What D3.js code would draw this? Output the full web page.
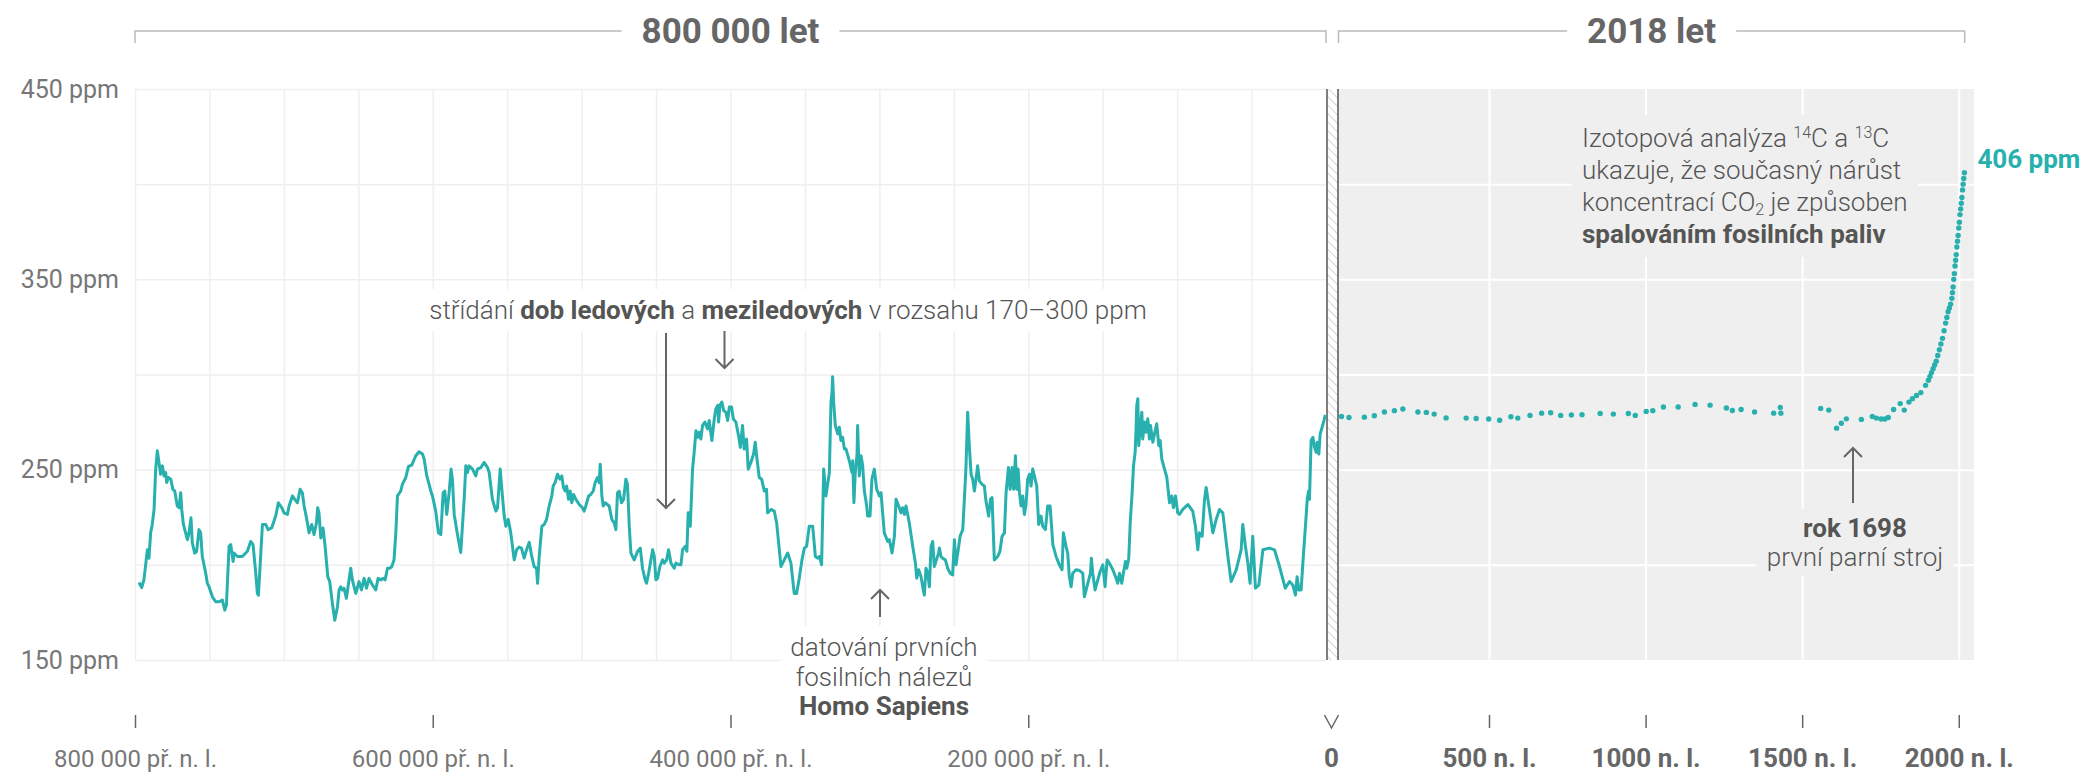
<!DOCTYPE html>
<html lang="cs">

<head>
    <meta charset="UTF-8" />
    <title>CO2 - 800 000 let</title>
    <script src="https://d3js.org/d3.v7.min.js"></script>
    <style>
        body {
            margin: 0;
            background: #fff;
        }

        svg text {
            font-family: Roboto, "Noto Sans", sans-serif;
        }
    </style>
</head>

<body>
    <svg id="chart"></svg>

    <script>
        // ice core record: [thousand years (negative = before present), ppm]
        const iceCore = [
            [-797.3, 190.7], [-795.5, 188], [-794, 192.1], [-791.7, 207.9], [-790.6, 203.5], [-789.5, 216.8], [-788.4, 221.2], [-787.2, 229.1], [-786.1, 250.3], [-785, 260],
            [-783.9, 253.8], [-782.8, 247.6], [-781.6, 252], [-780.5, 246.7], [-779.4, 248.5], [-778.7, 243.2], [-777.6, 245.9], [-776, 245], [-774.5, 239.5], [-773.3, 238.8],
            [-771.6, 230.9], [-770.4, 230], [-769.3, 237.9], [-768.6, 229.1], [-767.5, 221.2], [-766, 216.8], [-764.8, 213.2], [-763.7, 216.8], [-762.4, 224.7], [-761.5, 211.5],
            [-759.9, 206.2], [-758.6, 207.1], [-757, 218.5], [-755.9, 216.8], [-754.8, 204.4], [-752.5, 195.6], [-751.4, 190.3], [-750.3, 188.5], [-748, 183.2], [-745.8, 180.6],
            [-743.6, 180.6], [-741.3, 181.5], [-739.7, 176.2], [-738.6, 178.8], [-736.8, 209.7], [-735.7, 210.6], [-734.1, 201.8], [-733.5, 206.2], [-731.2, 204.4], [-727.9, 204.4],
            [-724.5, 207.1], [-722.3, 212.3], [-720.7, 210.6], [-718.9, 195.6], [-717.8, 185], [-717.1, 184.1], [-716, 199.1], [-714.4, 221.2], [-712.2, 221.2], [-710.6, 218.5],
            [-708.2, 219.4], [-705.5, 225.6], [-703.7, 232.6], [-701.4, 230], [-699.9, 227.3], [-697.6, 226.5], [-696.5, 230.9], [-694.3, 236.2], [-692.7, 234.4], [-690.9, 232.6],
            [-689.1, 239.7], [-687.6, 237.9], [-686.4, 230.9], [-684.6, 223.8], [-683.1, 216.8], [-681.3, 221.2], [-679.7, 215.9], [-678.1, 222], [-677.3, 230], [-676.4, 227.3],
            [-675.2, 214.1], [-673.7, 219.4], [-672.3, 209.7], [-670.5, 193.8], [-669.2, 191.2], [-667.4, 179.7], [-665.8, 170.9], [-664, 178], [-662.9, 186.8], [-661.8, 188.5],
            [-660.7, 186.8], [-659.6, 187.7], [-658, 182.4], [-655.1, 198.2], [-654, 192.1], [-651.7, 185], [-649.5, 191.2], [-647.9, 186.8], [-646.1, 192.9], [-644.5, 187.7],
            [-642.8, 192.9], [-640.5, 189.4], [-638.3, 186.8], [-636.7, 192.9], [-634.9, 192.1], [-633.3, 192.9], [-632, 192.1], [-630.4, 198.2], [-628.9, 198.2], [-627.5, 199.1],
            [-626, 202.6], [-624.8, 216.8], [-623.7, 236.2], [-621.5, 238.8], [-620.4, 242.3], [-618.1, 245.9], [-616.3, 251.7], [-614.1, 252.4], [-611.4, 257.3], [-609.2, 259.4],
            [-606.9, 258.2], [-605.8, 255.6], [-604, 246.7], [-601.3, 238.8], [-600.2, 236.2], [-598, 228.2], [-596.2, 216.8], [-594.6, 215.9], [-593, 237.9], [-591.9, 238.8],
            [-590.6, 226.5], [-589, 237.9], [-587.7, 250.3], [-586.8, 245], [-585.6, 226.5], [-583.4, 215.9], [-581.2, 206.5], [-578.9, 234.4], [-577.8, 252], [-576.7, 248.5],
            [-575.6, 252], [-573.3, 250.3], [-571.1, 246.7], [-570, 250.3], [-567.7, 251.1], [-565.5, 253.8], [-563.2, 251.1], [-562.1, 248.5], [-559.9, 234.4], [-557.6, 228.2],
            [-556.5, 230], [-554.7, 250.3], [-553.6, 239.7], [-552, 225.6], [-550.9, 220.3], [-549.3, 223.9], [-547.6, 216.8], [-545.3, 202.6], [-543.7, 207.9], [-542, 209.3],
            [-540.4, 208.8], [-538.6, 203.5], [-537, 207.9], [-535.2, 211.8], [-533.7, 205.3], [-531.9, 199.1], [-530.3, 198.2], [-529.6, 190.3], [-528.5, 204.4], [-526.7, 220.3],
            [-525.1, 221.2], [-523.6, 223.8], [-521.8, 230.9], [-520, 236.2], [-519.1, 241.4], [-517.8, 243.2], [-516.2, 247.6], [-514.6, 245], [-513.3, 246.7], [-512.2, 240.6],
            [-511, 238.8], [-510.1, 241.4], [-508.8, 234.4], [-507.7, 238.8], [-506.6, 232.6], [-505.4, 237], [-503.9, 234.4], [-501.6, 231.7], [-499.4, 230], [-498.3, 228.2],
            [-497.2, 230.9], [-495.3, 236.2], [-493.8, 237], [-492.2, 238.8], [-490.9, 243.2], [-489.3, 245.9], [-488.2, 243.2], [-487.5, 252.9], [-486.4, 236.2], [-485.5, 230.9],
            [-484.2, 232.6], [-481.5, 230.9], [-479.7, 223.8], [-478.1, 222], [-477, 218.5], [-475.9, 237.9], [-474.8, 238.8], [-473.2, 232.6], [-471.8, 234.4], [-470.3, 245],
            [-469.2, 242.3], [-468, 220.3], [-466.9, 206.2], [-464.7, 202.6], [-462.4, 207.1], [-460.6, 208.8], [-459.1, 198.2], [-457.3, 192.1], [-456.4, 190.3], [-455, 195.6],
            [-452.3, 207.9], [-451.2, 204.4], [-450.1, 192.1], [-449, 193], [-447.4, 199.1], [-445.6, 202.6], [-444.5, 200.9], [-442.9, 202.6], [-441.6, 207.9], [-440, 200.9],
            [-437.8, 198.2], [-436.7, 200.9], [-434.4, 200], [-433.3, 200], [-432.2, 207.9], [-430.4, 209.7], [-429.3, 207.1], [-428.4, 227.3], [-427, 220.3], [-425.5, 250.3],
            [-424.4, 259.1], [-423.2, 270.5], [-422.1, 267], [-421, 269.7], [-419.9, 266.1], [-418.8, 273.2], [-417.2, 275], [-415.4, 271.4], [-414.3, 275.8], [-412.5, 265.3],
            [-410.9, 276.7], [-409.8, 282], [-408.5, 283.8], [-408, 275], [-407.1, 283.8], [-405.8, 285.5], [-404.6, 281.1], [-403.1, 280.2], [-401.9, 275.8], [-400.8, 282.9],
            [-399.3, 282.9], [-398.1, 276.7], [-396.4, 275], [-394.6, 267.9], [-393.4, 261.7], [-391.9, 273.2], [-390.8, 260.8], [-389.2, 266.1], [-388.1, 250.3], [-386.3, 253.8],
            [-384.5, 258.2], [-383.4, 264.4], [-382.2, 255.6], [-380.7, 245.9], [-379.1, 245], [-377.3, 238.8], [-375.8, 239.7], [-375.1, 227.3], [-372.8, 229.1], [-370.6, 228.2],
            [-369, 222], [-366.1, 199.1], [-363.9, 202.6], [-361.6, 206.2], [-359.4, 200.9], [-357.2, 185], [-355.6, 185], [-353.8, 193], [-352, 202.6], [-350.4, 208.8],
            [-348.9, 209.7], [-347.1, 220.3], [-344.8, 220.3], [-343, 204.4], [-341.5, 203.5], [-340.3, 204.4], [-338.8, 200], [-337.4, 250.3], [-335.9, 236.2], [-333.6, 248.5],
            [-332.5, 285.5], [-331.8, 290.8], [-331.4, 298.8], [-330.7, 285.5], [-329.6, 273.2], [-328, 268.8], [-326.9, 272.3], [-325.8, 265.3], [-324.7, 267], [-323.5, 260.8],
            [-322.4, 260.8], [-320.2, 254.7], [-318.4, 248.5], [-317.9, 254.7], [-317.1, 232.6], [-316.2, 248.5], [-315, 258.2], [-314.6, 273.2], [-313.5, 246.7], [-312.3, 257.3],
            [-311.2, 252], [-310.1, 238.8], [-308.5, 230.9], [-307.9, 225.6], [-306.3, 225.6], [-305, 245], [-303.4, 250.3], [-301.8, 239.7], [-300, 236.2], [-298.9, 237.9],
            [-297.8, 227.3], [-296.7, 216.8], [-294.4, 212.3], [-293.3, 213.2], [-291.5, 206.2], [-289.9, 215], [-288.8, 234.4], [-287, 230.9], [-285.5, 227.3], [-284.4, 230],
            [-283.2, 226.5], [-282.1, 230.9], [-279.9, 222], [-277.6, 209.7], [-275.8, 200.9], [-274.9, 193], [-273.6, 197.4], [-272, 193.8], [-270.9, 188.5], [-269.8, 184.1],
            [-268.7, 198.2], [-267.5, 195.6], [-266.4, 188.5], [-265.3, 209.7], [-264.2, 212.3], [-263.1, 199.1], [-260.2, 206.2], [-259.7, 208.8], [-258.6, 204.4], [-257.5, 203.5],
            [-255.7, 202.6], [-254.1, 198.2], [-252.5, 195.6], [-250.8, 194.7], [-249.6, 213.2], [-248.5, 200], [-246.7, 209.7], [-245.8, 215], [-244, 218.5], [-242.9, 234.4],
            [-241.8, 252], [-240.7, 280.2], [-239.6, 262.6], [-238.4, 247.6], [-237.3, 245], [-236.2, 238.8], [-235.1, 245], [-234, 252], [-232.8, 244.1], [-231, 242.3],
            [-229.5, 241.4], [-228.4, 233.5], [-226.6, 225.6], [-225.4, 234.4], [-224.3, 235.3], [-222.8, 202.6], [-220.5, 204.4], [-219, 207.1], [-217.6, 215], [-216, 216.8],
            [-214.9, 237.9], [-213.3, 251.1], [-212.2, 239.7], [-210.9, 251.1], [-209.8, 239.7], [-208.6, 257.3], [-207.7, 239.7], [-206.8, 250.3], [-205.9, 237.9], [-204.8, 230.9],
            [-203.7, 236.2], [-202.6, 226.5], [-201.5, 231.7], [-200.4, 245], [-199.2, 247.6], [-198.1, 241.4], [-197, 250.3], [-195.9, 246.7], [-194.3, 241.4], [-193, 221.2],
            [-191.4, 225.6], [-190.3, 220.3], [-188.5, 218.5], [-186.9, 230.9], [-185.3, 230.9], [-183.5, 210.6], [-181.3, 204.4], [-179.1, 200], [-177.3, 197.4], [-176.4, 216.8],
            [-174.6, 209.7], [-173.5, 206.2], [-172.4, 193.8], [-171.2, 188.5], [-170.1, 195.6], [-167.9, 197.4], [-165.6, 197], [-163.4, 195.6], [-162.3, 183.2], [-160, 190.3],
            [-158.2, 195.6], [-157.6, 203.5], [-156.7, 195.6], [-155.1, 186.8], [-153.3, 192.1], [-151.7, 196.5], [-149.9, 200], [-148.4, 188.5], [-147, 202.6], [-145.5, 200.9],
            [-143.2, 197.4], [-141, 193], [-139.9, 190.3], [-138.7, 195.6], [-137.2, 190.3], [-136.1, 195.6], [-134.7, 201.8], [-133.8, 198.2], [-132.5, 203.5], [-131.4, 223.8],
            [-130.2, 237.9], [-129.3, 252], [-128.2, 259.1], [-127.6, 271.4], [-127.1, 283.8], [-126.4, 287.3], [-125.8, 262.6], [-124.6, 273.2], [-123.7, 280.2], [-123.1, 266.1],
            [-121.9, 275], [-120.8, 269.7], [-119.7, 276.7], [-118.6, 266.1], [-117.9, 273.2], [-116.3, 264.4], [-115.2, 268.8], [-113.7, 274.1], [-112.3, 262.6], [-111.4, 265.3],
            [-110.3, 255.6], [-108.5, 250.3], [-106.9, 245.9], [-105.1, 232.6], [-103.6, 236.2], [-102.5, 230], [-101.1, 236.2], [-99.6, 227.3], [-98.4, 226.5], [-96.2, 229.1],
            [-92.8, 231.7], [-89.5, 228.2], [-87.7, 220.3], [-86.1, 207.9], [-85, 216.8], [-83.2, 215], [-81.6, 234.4], [-80.5, 240.6], [-78.3, 229.1], [-76, 216.8],
            [-73.8, 223.8], [-71.5, 229.1], [-69.3, 227.3], [-65.9, 204.4], [-63.7, 191.2], [-60.3, 197.4], [-57, 207.9], [-55.9, 221.2], [-54.1, 209.7], [-52.5, 200.9],
            [-51, 190.3], [-49.2, 215], [-47.4, 187.7], [-45.1, 189.4], [-42.4, 207.9], [-38, 208.8], [-34.6, 207.9], [-31.2, 199.1], [-27.4, 187.7], [-24.5, 191.2],
            [-22.3, 189.4], [-20.5, 184.1], [-19.4, 193.8], [-18.2, 186.8], [-16.7, 186.8], [-15.1, 206.2], [-13.8, 220.3], [-12.6, 234.4], [-11.7, 238.8], [-11.1, 234.4],
            [-10, 265.3], [-8.8, 267], [-7.7, 261.7], [-6.6, 259.1], [-5.9, 264.4], [-4.8, 258.2], [-3.9, 268.8], [-2.6, 272.3], [-1.4, 275.8], [-0.5, 278.8]
        ];

        // last two millennia: [year n. l., ppm]
        const recentRecord = [
            [29, 277.9], [53, 277.4], [102, 277.6], [134, 278.3], [166, 280.3], [198, 281], [225, 281.9], [273, 280.3], [300, 280.1], [325, 279.2],
            [363, 277.2], [427, 277.1], [459, 276.9], [499, 276.6], [534, 276], [570, 277.8], [592, 277.1], [631, 278.5], [668, 279.7], [697, 279.9],
            [729, 278.5], [763, 278.7], [797, 278.9], [855, 279.5], [897, 279.2], [945, 279.5], [967, 278.5], [1002, 280.6], [1023, 281], [1057, 282.9],
            [1104, 282.9], [1158, 284.3], [1206, 283.9], [1258, 282.4], [1277, 281.1], [1305, 281.6], [1348, 280.3], [1409, 279.7], [1430, 282.7], [1432, 279.7],
            [1559, 282.2], [1585, 281.3], [1610, 271.8], [1625, 274.4], [1641, 276.7], [1689, 276.4], [1724, 277.9], [1737, 277.1], [1752, 276.6], [1764, 276.6],
            [1775, 277.4], [1792, 281.6], [1813, 284.7], [1826, 281.3], [1841, 285.5], [1852, 287.3], [1865, 289], [1879, 290.5], [1894, 294.3], [1903, 297],
            [1908, 299], [1913, 301], [1918, 303], [1923, 305], [1928, 307], [1933, 310], [1938, 313], [1943, 316], [1948, 319], [1953, 323],
            [1958, 327], [1962, 330], [1966, 333], [1970, 335], [1974, 337], [1978, 340], [1980, 343], [1982, 346], [1984, 350], [1986, 353],
            [1988, 357], [1990, 360], [1992, 363], [1994, 367], [1996, 370], [1998, 373], [2000, 377], [2002, 380], [2004, 384], [2006, 387],
            [2008, 390], [2010, 393], [2012, 397], [2014, 400], [2016, 403], [2018, 406]
        ];

        const ppmTicks = [150, 250, 350, 450];
        const ppmGrid = [150, 200, 250, 300, 350, 400, 450];
        const pastTicks = [-800, -600, -400, -200];
        const pastTickLabels = ["800 000 př. n. l.", "600 000 př. n. l.", "400 000 př. n. l.", "200 000 př. n. l."];
        const recentTicks = [500, 1000, 1500, 2000];
        const recentTickLabels = ["500 n. l.", "1000 n. l.", "1500 n. l.", "2000 n. l."];
        const spanTitles = ["800 000 let", "2018 let"];

        const width = 2087;
        const height = 773;
        const teal = "#27b0ad";
        const textDark = "#555";

        const plotTop = 89;
        const plotBottom = 660;
        const pastLeft = 135;
        const pastRight = 1326;
        const breakLeft = 1327;
        const breakRight = 1338;
        const recentRight = 1974;
        const labelBase = 767;

        const svg = d3.select("#chart")
            .attr("width", width)
            .attr("height", height);

        const y = d3.scaleLinear().domain([150, 450]).range([plotBottom, plotTop]);
        const xPast = d3.scaleLinear().domain([-800, 0]).range([pastLeft, pastRight]);
        const xRecent = d3.scaleLinear().domain([0, 2018]).range([1332.4, 1964.4]);

        // hatch pattern for the break
        const defs = svg.append("defs");
        const pattern = defs.append("pattern")
            .attr("id", "hatch")
            .attr("patternUnits", "userSpaceOnUse")
            .attr("width", 6)
            .attr("height", 6)
            .attr("patternTransform", "rotate(-45)");
        pattern.append("rect").attr("width", 6).attr("height", 6).attr("fill", "#fff");
        pattern.append("line")
            .attr("x1", 0).attr("y1", 0).attr("x2", 0).attr("y2", 6)
            .attr("stroke", "#d4d4d4").attr("stroke-width", 2);

        // left panel grid
        svg.append("g")
            .attr("transform", `translate(${pastLeft},0)`)
            .call(d3.axisLeft(y).tickValues(ppmGrid).tickSize(-(pastRight - pastLeft)).tickFormat(""))
            .call(g => g.select(".domain").remove())
            .selectAll("line").attr("stroke", "#efefef").attr("stroke-width", 1.5);

        svg.append("g")
            .attr("transform", `translate(0,${plotBottom})`)
            .call(d3.axisBottom(xPast).tickValues(d3.range(-800, 0, 50)).tickSize(-(plotBottom - plotTop)).tickFormat(""))
            .call(g => g.select(".domain").remove())
            .selectAll("line").attr("stroke", "#efefef").attr("stroke-width", 1.5);

        // right panel background and white grid
        svg.append("rect")
            .attr("x", breakRight)
            .attr("y", plotTop)
            .attr("width", recentRight - breakRight)
            .attr("height", plotBottom - plotTop)
            .attr("fill", "#efefef");

        svg.append("g")
            .attr("transform", `translate(${breakRight},0)`)
            .call(d3.axisLeft(y).tickValues(ppmGrid.slice(1, -1)).tickSize(-(recentRight - breakRight)).tickFormat(""))
            .call(g => g.select(".domain").remove())
            .selectAll("line").attr("stroke", "#fff").attr("stroke-width", 2);

        svg.append("g")
            .attr("transform", `translate(0,${plotBottom})`)
            .call(d3.axisBottom(xRecent).tickValues(recentTicks).tickSize(-(plotBottom - plotTop)).tickFormat(""))
            .call(g => g.select(".domain").remove())
            .selectAll("line").attr("stroke", "#fff").attr("stroke-width", 2);

        // break between the two time scales
        svg.append("rect")
            .attr("x", breakLeft)
            .attr("y", plotTop)
            .attr("width", breakRight - breakLeft)
            .attr("height", plotBottom - plotTop)
            .attr("fill", "url(#hatch)");

        [breakLeft, breakRight].forEach(xb => {
            svg.append("line")
                .attr("x1", xb).attr("x2", xb)
                .attr("y1", plotTop).attr("y2", plotBottom)
                .attr("stroke", "#555").attr("stroke-width", 1.5);
        });

        // y axis labels
        svg.append("g")
            .attr("transform", `translate(${pastLeft},0)`)
            .call(d3.axisLeft(y).tickValues(ppmTicks).tickSize(0).tickPadding(16).tickFormat(d => d + " ppm"))
            .call(g => g.select(".domain").remove())
            .selectAll("text")
            .attr("fill", "#777")
            .style("font-size", "25px")
            .style("font-family", "Roboto, sans-serif");

        function arrow(x, y1, y2) {
            const dir = y2 > y1 ? 1 : -1;
            svg.append("path")
                .attr("d", `M${x},${y1}V${y2}M${x - 9},${y2 - 9 * dir}L${x},${y2}L${x + 9},${y2 - 9 * dir}`)
                .attr("fill", "none")
                .attr("stroke", "#666")
                .attr("stroke-width", 2);
        }

        // annotation helper: text lines with a backdrop rect
        function note(lines, x, y0, lineHeight, anchor, bg, pad) {
            const g = svg.append("g");
            const text = g.append("text")
                .attr("text-anchor", anchor)
                .style("font-size", "26px")
                .attr("fill", textDark);
            lines.forEach((parts, i) => {
                const line = text.append("tspan").attr("x", x).attr("y", y0 + i * lineHeight);
                parts.forEach(p => {
                    const t = line.append("tspan").text(p.t).style("font-weight", p.b ? 700 : 300);
                    if (p.sup) t.style("font-size", "16px").attr("baseline-shift", "9");
                    if (p.sub) t.style("font-size", "16px").attr("baseline-shift", "-4");
                });
            });
            const b = text.node().getBBox();
            g.insert("rect", "text")
                .attr("x", b.x - pad[0]).attr("y", b.y - pad[1])
                .attr("width", b.width + 2 * pad[0]).attr("height", b.height + 2 * pad[1])
                .attr("fill", bg);
            return g;
        }

        // line of the ice core record
        svg.append("path")
            .datum(iceCore)
            .attr("fill", "none")
            .attr("stroke", teal)
            .attr("stroke-width", 3)
            .attr("stroke-linejoin", "round")
            .attr("d", d3.line().x(d => xPast(d[0])).y(d => y(d[1])));

        // dots of the last two millennia
        svg.append("g")
            .selectAll("circle")
            .data(recentRecord)
            .join("circle")
            .attr("cx", d => xRecent(d[0]))
            .attr("cy", d => y(d[1]))
            .attr("r", 2.7)
            .attr("fill", teal);

        const last = recentRecord[recentRecord.length - 1];
        svg.append("text")
            .attr("x", xRecent(last[0]) + 13)
            .attr("y", y(last[1]) - 5)
            .attr("fill", teal)
            .style("font-size", "26px")
            .style("font-weight", 700)
            .text(last[1] + " ppm");

        // annotations
        note([[{ t: "střídání " }, { t: "dob ledových", b: true }, { t: " a " }, { t: "meziledových", b: true }, { t: " v rozsahu 170–300 ppm" }]],
            788, 319, 30, "middle", "#fff", [8, 6]);
        arrow(666, 333, 508);
        arrow(724.5, 331, 368);

        note([[{ t: "datování prvních" }], [{ t: "fosilních nálezů" }], [{ t: "Homo Sapiens", b: true }]],
            884, 656, 29.5, "middle", "#fff", [10, 6]);
        arrow(880, 617, 590);

        note([[{ t: "Izotopová analýza " }, { t: "14", sup: true }, { t: "C a " }, { t: "13", sup: true }, { t: "C" }],
        [{ t: "ukazuje, že současný nárůst" }],
        [{ t: "koncentrací CO" }, { t: "2", sub: true }, { t: " je způsoben" }],
        [{ t: "spalováním fosilních paliv", b: true }]],
            1582, 147, 32, "start", "#efefef", [10, 8]);

        note([[{ t: "rok 1698", b: true }], [{ t: "první parní stroj" }]],
            1855, 537, 29, "middle", "#efefef", [10, 4]);
        arrow(1853, 503, 448);

        // span headers
        const spans = [[pastLeft, pastRight], [breakRight + 0.5, 1964.7]];
        spans.forEach(([x0, x1], i) => {
            const cx = (x0 + x1) / 2;
            const t = svg.append("text")
                .attr("x", cx).attr("y", 43)
                .attr("text-anchor", "middle")
                .attr("fill", "#666")
                .style("font-size", "35px")
                .style("font-weight", 700)
                .text(spanTitles[i]);
            const half = t.node().getComputedTextLength() / 2 + 20;
            svg.append("path")
                .attr("d", `M${x0},43V31H${cx - half}M${cx + half},31H${x1}V43`)
                .attr("fill", "none")
                .attr("stroke", "#bbb")
                .attr("stroke-width", 1.5);
        });

        // bottom axes
        svg.append("g")
            .attr("transform", "translate(0,715)")
            .call(d3.axisBottom(xPast).tickValues(pastTicks).tickSize(13).tickPadding(22)
                .tickFormat((d, i) => pastTickLabels[i]))
            .call(g => g.select(".domain").remove())
            .call(g => g.selectAll("line").attr("stroke", "#666").attr("stroke-width", 1.5))
            .call(g => g.selectAll("text").attr("fill", "#777")
                .style("font-size", "24px").style("font-family", "Roboto, sans-serif"));

        svg.append("g")
            .attr("transform", "translate(0,715)")
            .call(d3.axisBottom(xRecent).tickValues(recentTicks).tickSize(13).tickPadding(21)
                .tickFormat((d, i) => recentTickLabels[i]))
            .call(g => g.select(".domain").remove())
            .call(g => g.selectAll("line").attr("stroke", "#666").attr("stroke-width", 1.5))
            .call(g => g.selectAll("text").attr("fill", "#666")
                .style("font-size", "26px").style("font-weight", 700).style("font-family", "Roboto, sans-serif"));

        // zero mark between the scales
        const zeroX = (breakLeft + breakRight) / 2 - 1;
        svg.append("path")
            .attr("d", `M${zeroX - 7},715L${zeroX},728L${zeroX + 7},715`)
            .attr("fill", "none")
            .attr("stroke", "#666")
            .attr("stroke-width", 1.5);
        svg.append("text")
            .attr("x", zeroX).attr("y", labelBase)
            .attr("text-anchor", "middle")
            .attr("fill", "#666")
            .style("font-size", "26px")
            .style("font-weight", 700)
            .text("0");
    </script>
</body>

</html>
